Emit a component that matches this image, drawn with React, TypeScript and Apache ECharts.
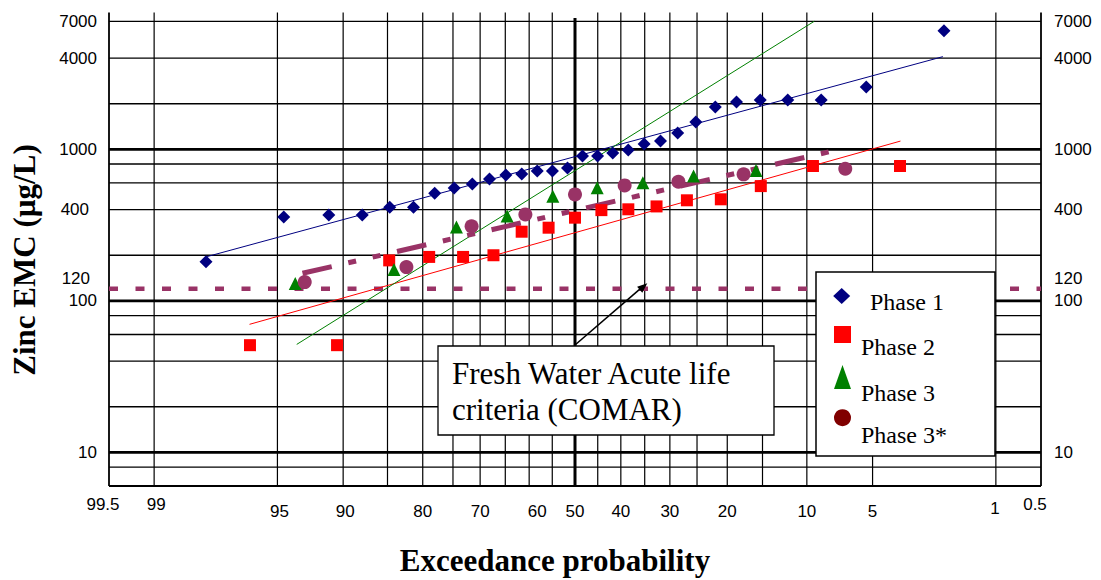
import React, { useEffect, useRef } from "react";
import * as echarts from "echarts";

// ---- axis grid / labels ----
const probGrid = [99.5, 99, 95, 90, 85, 80, 75, 70, 65, 60, 55, 50, 45, 40, 35, 30, 25, 20, 15, 10, 5, 1, 0.5];
const probLabels = [99.5, 99, 95, 90, 80, 70, 60, 50, 40, 30, 20, 10, 5, 1, 0.5];
const concGrid = [6, 8, 10, 20, 40, 60, 80, 100, 200, 400, 600, 800, 1000, 2000, 4000, 7000];
const concMajor = [10, 100, 1000];
const concLabels = [10, 100, 120, 400, 1000, 4000, 7000];
const criterionConc = 120;

// ---- data (exceedance probability %, zinc EMC µg/L) ----
const phase1Prob = [97.93, 94.63, 91.32, 88.02, 84.71, 81.40, 78.10, 74.79, 71.49, 68.18, 64.88, 61.57, 58.26, 54.96, 51.65, 48.35, 45.04, 41.74, 38.43, 35.12, 31.82, 28.51, 25.21, 21.90, 18.60, 15.29, 11.98, 8.68, 5.37, 2.07];
const phase1Conc = [181, 357, 368, 368, 415, 415, 514, 555, 590, 636, 676, 687, 719, 719, 752, 903, 903, 945, 989, 1084, 1135, 1282, 1516, 1905, 2055, 2119, 2119, 2119, 2583, 6058];

const phase2Prob = [96.38, 90.58, 84.78, 78.99, 73.19, 67.39, 61.59, 55.80, 50.0, 44.20, 38.41, 32.61, 26.81, 21.01, 15.22, 9.42, 3.62];
const phase2Conc = [51, 51, 185, 195, 195, 200, 286, 304, 354, 397, 402, 420, 461, 468, 572, 776, 776];

const phase3Prob = [93.90, 84.15, 74.39, 64.63, 54.88, 45.12, 35.37, 25.61, 15.85];
const phase3Conc = [130, 161, 307, 363, 491, 557, 601, 666, 726];

const phase3sProb = [93.24, 82.43, 71.62, 60.81, 50.0, 39.19, 28.38, 17.57, 6.76];
const phase3sConc = [133, 167, 311, 372, 504, 578, 611, 684, 744];

// fitted lines (end points)
const fit1Prob = [97.9, 2.1];
const fit1Conc = [196, 4090];
const fit2Prob = [96.4, 3.6];
const fit2Conc = [70, 1134];
const fit3Prob = [93.8, 9.3];
const fit3Conc = [51.6, 7000];
const fit3sProb = [93.4, 6.9];
const fit3sConc = [152, 1012];

// ---- normal probability transform ----
function normInv(p: number): number {
  const a = [-3.969683028665376e1, 2.209460984245205e2, -2.759285104469687e2, 1.38357751867269e2, -3.066479806614716e1, 2.506628277459239];
  const b = [-5.447609879822406e1, 1.615858368580409e2, -1.556989798598866e2, 6.680131188771972e1, -1.328068155288572e1];
  const c = [-7.784894002430293e-3, -3.223964580411365e-1, -2.400758277161838, -2.549732539343734, 4.374664141464968, 2.938163982698783];
  const d = [7.784695709041462e-3, 3.224671290700398e-1, 2.445134137142996, 3.754408661907416];
  const pl = 0.02425;
  let q: number, r: number;
  if (p < pl) {
    q = Math.sqrt(-2 * Math.log(p));
    return (((((c[0] * q + c[1]) * q + c[2]) * q + c[3]) * q + c[4]) * q + c[5]) / ((((d[0] * q + d[1]) * q + d[2]) * q + d[3]) * q + 1);
  }
  if (p <= 1 - pl) {
    q = p - 0.5;
    r = q * q;
    return ((((((a[0] * r + a[1]) * r + a[2]) * r + a[3]) * r + a[4]) * r + a[5]) * q) / (((((b[0] * r + b[1]) * r + b[2]) * r + b[3]) * r + b[4]) * r + 1);
  }
  q = Math.sqrt(-2 * Math.log(1 - p));
  return -(((((c[0] * q + c[1]) * q + c[2]) * q + c[3]) * q + c[4]) * q + c[5]) / ((((d[0] * q + d[1]) * q + d[2]) * q + d[3]) * q + 1);
}
const px = (exceed: number) => normInv(1 - exceed / 100);
const pairs = (ps: number[], vs: number[]) => ps.map((p, i) => [px(p), vs[i]]);

const X_MIN = px(99.5);
const X_MAX = px(0.5);
const Y_MIN = 6;
const Y_MAX = 8000;

const NAVY = "#000080";
const RED = "#FF0000";
const GREEN = "#008000";
const PURPLE = "#993366";

const SANS = "'Liberation Sans', Arial, sans-serif";
const SERIF = "'Liberation Serif', 'Times New Roman', serif";

// label placement tweaks (style only)
const xLabelDx: Record<string, number> = { "99.5": -6, "99": 2, "95": 2, "90": 2, "60": 8, "0.5": -6, "1": -1 };
const xLabelDy: Record<string, number> = { "99.5": 18.5, "99": 18, "1": 22, "0.5": 18.5 };
const yLabelDy: Record<string, number> = { "120": -10 };
const yLeftShift: Record<string, number> = { "400": -8, "120": -7 };

const TOP_Z = 100;

function txt(text: string, x: number, y: number, font: string, align: string, vAlign = "middle", z = 0) {
  return {
    type: "text",
    x,
    y,
    z,
    style: {
      text,
      font,
      fill: "#000",
      align,
      verticalAlign: vAlign,
      textAlign: align,
      textVerticalAlign: vAlign,
    },
  };
}

const option: any = {
  animation: false,
  backgroundColor: "#fff",
  grid: { left: 109, right: 60, top: 12.5, bottom: 94, containLabel: false },
  xAxis: { type: "value", min: X_MIN, max: X_MAX, show: false },
  yAxis: { type: "log", logBase: 10, min: Y_MIN, max: Y_MAX, show: false },
  series: [
    {
      type: "custom",
      name: "hgrid",
      silent: true,
      z: 1,
      data: concGrid.map((v) => [X_MIN, v]),
      renderItem: (params: any, api: any) => {
        const v = concGrid[params.dataIndex];
        const a = api.coord([X_MIN, v]);
        const b = api.coord([X_MAX, v]);
        const major = concMajor.indexOf(v) >= 0;
        return {
          type: "line",
          shape: { x1: a[0], y1: a[1], x2: b[0], y2: b[1] },
          style: { stroke: "#000", lineWidth: major ? 2.7 : v === Y_MIN ? 1.8 : 1.3 },
        };
      },
    },
    {
      type: "custom",
      name: "vgrid",
      silent: true,
      z: 1,
      data: probGrid.map((p) => [px(p), Y_MIN]),
      renderItem: (params: any, api: any) => {
        const p = probGrid[params.dataIndex];
        const x = px(p);
        const top = api.coord([x, Y_MAX]);
        const bot = api.coord([x, Y_MIN]);
        const center = p === 50;
        const border = p === 99.5 || p === 0.5;
        return {
          type: "line",
          shape: { x1: top[0], y1: top[1] + (center ? 5.5 : 0), x2: bot[0], y2: bot[1] },
          style: { stroke: "#000", lineWidth: center ? 3 : border ? 1.8 : 1.2 },
        };
      },
    },
    {
      type: "custom",
      name: "xlabels",
      silent: true,
      clip: false,
      z: 1,
      data: probLabels.map((p) => [px(p), Y_MIN]),
      renderItem: (params: any, api: any) => {
        const p = probLabels[params.dataIndex];
        const key = String(p);
        const c = api.coord([px(p), Y_MIN]);
        const dx = xLabelDx[key] || 0;
        const dy = xLabelDy[key] !== undefined ? xLabelDy[key] : 25;
        return txt(key, c[0] + dx, c[1] + dy, `17px ${SANS}`, "center");
      },
    },
    {
      type: "custom",
      name: "ylabels",
      silent: true,
      clip: false,
      z: 1,
      data: concLabels.map((v) => [X_MIN, v]),
      renderItem: (params: any, api: any) => {
        const v = concLabels[params.dataIndex];
        const key = String(v);
        const a = api.coord([X_MIN, v]);
        const b = api.coord([X_MAX, v]);
        const dy = yLabelDy[key] || 0;
        const shift = yLeftShift[key] || 0;
        return {
          type: "group",
          children: [
            txt(key, a[0] - 12 + shift, a[1] + dy, `17px ${SANS}`, "right"),
            txt(key, b[0] + 13, b[1] + dy, `17px ${SANS}`, "left"),
          ],
        };
      },
    },
    {
      type: "line",
      name: "criterion",
      silent: true,
      z: 2,
      showSymbol: false,
      symbol: "none",
      data: [
        [X_MIN, criterionConc],
        [X_MAX, criterionConc],
      ],
      lineStyle: { color: PURPLE, width: 4.5, type: [9, 17.5], cap: "butt" },
    },
    {
      type: "line",
      name: "fit1",
      z: 3,
      symbol: "none",
      data: pairs(fit1Prob, fit1Conc),
      lineStyle: { color: NAVY, width: 1 },
    },
    {
      type: "line",
      name: "fit2",
      z: 3,
      symbol: "none",
      data: pairs(fit2Prob, fit2Conc),
      lineStyle: { color: RED, width: 1 },
    },
    {
      type: "line",
      name: "fit3",
      z: 3,
      symbol: "none",
      data: pairs(fit3Prob, fit3Conc),
      lineStyle: { color: GREEN, width: 1 },
    },
    {
      type: "line",
      name: "fit3s",
      z: 3,
      symbol: "none",
      data: pairs(fit3sProb, fit3sConc),
      lineStyle: { color: PURPLE, width: 5, type: [30, 17, 8, 17, 8, 17], cap: "butt" },
    },
    {
      type: "scatter",
      name: "Phase 1",
      z: 4,
      symbol: "diamond",
      symbolSize: 13,
      itemStyle: { color: NAVY, opacity: 1 },
      data: pairs(phase1Prob, phase1Conc),
    },
    {
      type: "scatter",
      name: "Phase 2",
      z: 4,
      symbol: "rect",
      symbolSize: 12,
      itemStyle: { color: RED, opacity: 1 },
      data: pairs(phase2Prob, phase2Conc),
    },
    {
      type: "scatter",
      name: "Phase 3",
      z: 4,
      symbol: "triangle",
      symbolSize: 13,
      itemStyle: { color: GREEN, opacity: 1 },
      data: pairs(phase3Prob, phase3Conc),
    },
    {
      type: "scatter",
      name: "Phase 3*",
      z: 4,
      symbol: "circle",
      symbolSize: 14,
      itemStyle: { color: PURPLE, opacity: 1 },
      data: pairs(phase3sProb, phase3sConc),
    },
  ],
  graphic: {
    z: TOP_Z,
    elements: [
      // axis titles
      {
        ...txt("Zinc EMC (µg/L)", 24, 260, `bold 31px ${SERIF}`, "center", "middle", TOP_Z),
        rotation: Math.PI / 2,
      },
      txt("Exceedance probability", 555, 560, `bold 31px ${SERIF}`, "center", "middle", TOP_Z),
      // annotation
      {
        type: "line",
        z: TOP_Z,
        shape: { x1: 575, y1: 345, x2: 641, y2: 288.2 },
        style: { stroke: "#000", lineWidth: 1.6 },
      },
      {
        type: "polygon",
        z: TOP_Z,
        shape: { points: [[647.3, 283.3], [642.3, 292.8], [637.1, 286.8]] },
        style: { fill: "#000" },
      },
      {
        type: "rect",
        z: TOP_Z,
        shape: { x: 438, y: 346, width: 336, height: 89 },
        style: { fill: "#fff", stroke: "#000", lineWidth: 1.3 },
      },
      txt("Fresh Water Acute life", 452, 373, `31px ${SERIF}`, "left", "middle", TOP_Z + 1),
      txt("criteria (COMAR)", 452, 409.7, `31px ${SERIF}`, "left", "middle", TOP_Z + 1),
      // legend
      {
        type: "rect",
        z: TOP_Z,
        shape: { x: 816, y: 272, width: 179, height: 184 },
        style: { fill: "#fff", stroke: "#000", lineWidth: 1.5 },
      },
      {
        type: "polygon",
        z: TOP_Z + 1,
        shape: { points: [[841.7, 288], [850.2, 296], [841.7, 304], [833.2, 296]] },
        style: { fill: NAVY },
      },
      {
        type: "rect",
        z: TOP_Z + 1,
        shape: { x: 834, y: 326, width: 17, height: 17 },
        style: { fill: RED },
      },
      {
        type: "polygon",
        z: TOP_Z + 1,
        shape: { points: [[842.5, 365], [851, 389], [834, 389]] },
        style: { fill: GREEN },
      },
      {
        type: "circle",
        z: TOP_Z + 1,
        shape: { cx: 842.5, cy: 417.7, r: 8.5 },
        style: { fill: "#800000" },
      },
      txt("Phase 1", 870, 301.7, `24px ${SERIF}`, "left", "middle", TOP_Z + 1),
      txt("Phase 2", 861, 347, `24px ${SERIF}`, "left", "middle", TOP_Z + 1),
      txt("Phase 3", 861, 392.5, `24px ${SERIF}`, "left", "middle", TOP_Z + 1),
      txt("Phase 3*", 861, 434.5, `24px ${SERIF}`, "left", "middle", TOP_Z + 1),
    ],
  },
};

export default function App() {
  const ref = useRef<HTMLDivElement>(null);
  useEffect(() => {
    if (!ref.current) return;
    const chart = echarts.init(ref.current, null, { renderer: "svg" });
    chart.setOption(option);
    return () => chart.dispose();
  }, []);
  return (
    <div
      ref={ref}
      style={{ position: "fixed", left: 0, top: 0, width: 1101, height: 580, background: "#fff" }}
    />
  );
}
